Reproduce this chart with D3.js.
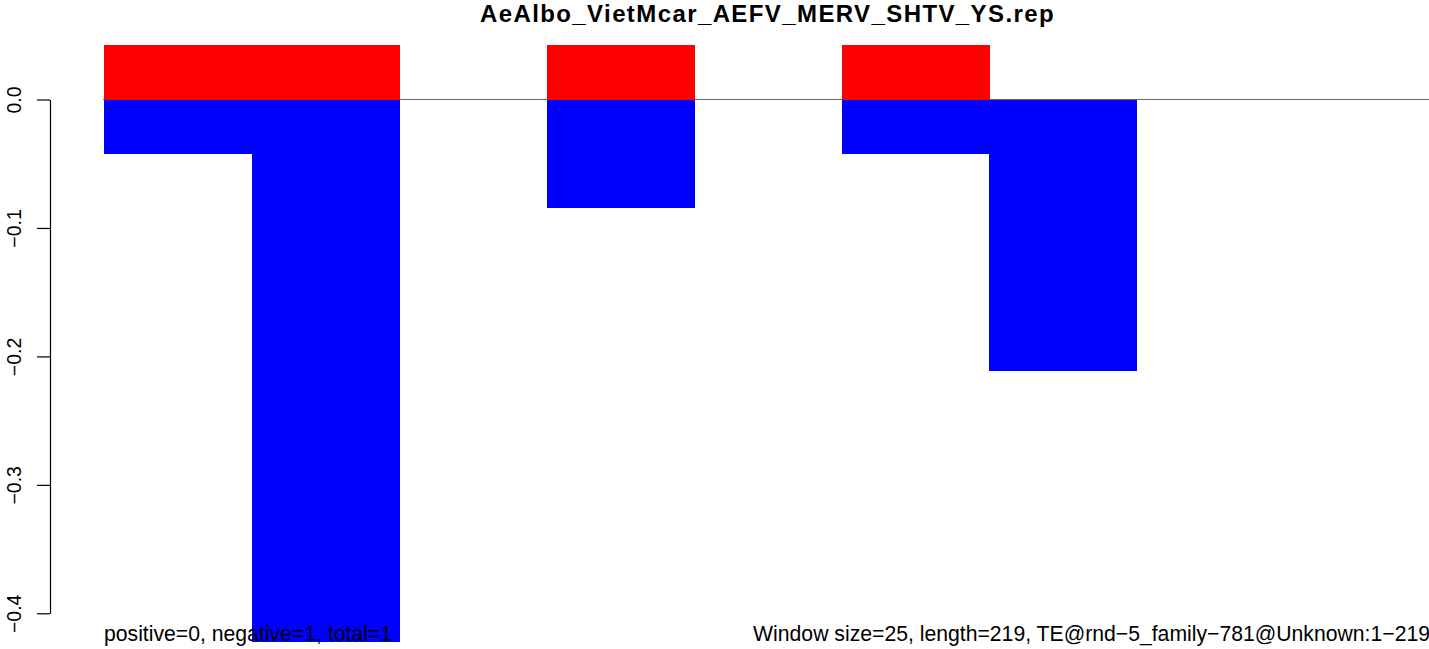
<!DOCTYPE html>
<html>
<head>
<meta charset="utf-8">
<script src="https://cdn.jsdelivr.net/npm/d3@7"></script>
<style>
  body { margin: 0; background: #fff; }
  svg { display: block; font-family: "Liberation Sans", Arial, Helvetica, sans-serif; }
</style>
</head>
<body>
<svg class="rep"></svg>
<script>
// window index along the TE
const windows = [0, 1, 2, 3, 4, 5, 6, 7, 8]
// positive / negative values per window
const positive = [0.0424, 0.0424, 0, 0.0424, 0, 0.0424, 0, 0, 0]
const negative = [-0.0424, -0.4227, 0, -0.0846, 0, -0.0424, -0.2113, 0, 0]
const yTicks = [0, -0.1, -0.2, -0.3, -0.4]

const TITLE = 'AeAlbo_VietMcar_AEFV_MERV_SHTV_YS.rep'
const LEFT_NOTE = 'positive=0, negative=1, total=1'
const RIGHT_NOTE = 'Window size=25, length=219, TE@rnd\u22125_family\u2212781@Unknown:1\u2212219'

const WIDTH = 1429
const HEIGHT = 649

const svg = d3.select('svg.rep')
  .attr('width', WIDTH)
  .attr('height', HEIGHT)

// x scale: one band per window, no gap
const xScale = d3.scaleBand()
  .domain(windows)
  .range([104, 104 + 147.5 * windows.length])
  .padding(0)

// y scale
const yScale = d3.scaleLinear()
  .domain([0, -0.4])
  .range([99.5, 613.3])

// zero line
svg.append('line')
  .attr('x1', 103)
  .attr('x2', WIDTH)
  .attr('y1', yScale(0))
  .attr('y2', yScale(0))
  .style('stroke', '#666')
  .style('stroke-width', 1)

// positive bars
svg.selectAll('.pos')
  .data(windows)
  .enter()
  .append('rect')
  .attr('class', 'pos')
  .attr('x', d => xScale(d))
  .attr('width', xScale.bandwidth() + 0.5)
  .attr('y', d => yScale(positive[d]))
  .attr('height', d => yScale(0) - yScale(positive[d]))
  .style('fill', '#ff0000')
  .style('shape-rendering', 'crispEdges')

// negative bars
svg.selectAll('.neg')
  .data(windows)
  .enter()
  .append('rect')
  .attr('class', 'neg')
  .attr('x', d => xScale(d))
  .attr('width', xScale.bandwidth() + 0.5)
  .attr('y', yScale(0))
  .attr('height', d => yScale(negative[d]) - yScale(0))
  .style('fill', '#0000ff')
  .style('shape-rendering', 'crispEdges')

// y axis
const yAxis = svg.append('g')
  .attr('transform', 'translate(50, 0)')
  .call(d3.axisLeft(yScale)
    .tickValues(yTicks)
    .tickFormat(d3.format('.1f'))
    .tickSize(13)
    .tickSizeOuter(0))

yAxis.select('.domain').style('stroke', '#000').style('stroke-width', 1.2)
yAxis.selectAll('.tick line').style('stroke', '#000').style('stroke-width', 1.2)
yAxis.selectAll('.tick text')
  .attr('transform', 'rotate(-90)')
  .attr('x', 0)
  .attr('y', -29)
  .attr('dy', 0)
  .attr('text-anchor', 'middle')
  .style('font-size', '19.5px')
  .style('font-family', '"Liberation Sans", Arial, sans-serif')
  .style('fill', '#000')

// title
svg.append('text')
  .attr('x', 767.5)
  .attr('y', 21.5)
  .attr('text-anchor', 'middle')
  .style('font-size', '24px')
  .style('font-weight', 'bold')
  .style('letter-spacing', '1.4px')
  .text(TITLE)

// bottom notes
svg.append('text')
  .attr('x', 104)
  .attr('y', 641)
  .style('font-size', '21.2px')
  .text(LEFT_NOTE)

svg.append('text')
  .attr('x', 1430)
  .attr('y', 641)
  .attr('text-anchor', 'end')
  .style('font-size', '21.2px')
  .text(RIGHT_NOTE)
</script>
</body>
</html>
